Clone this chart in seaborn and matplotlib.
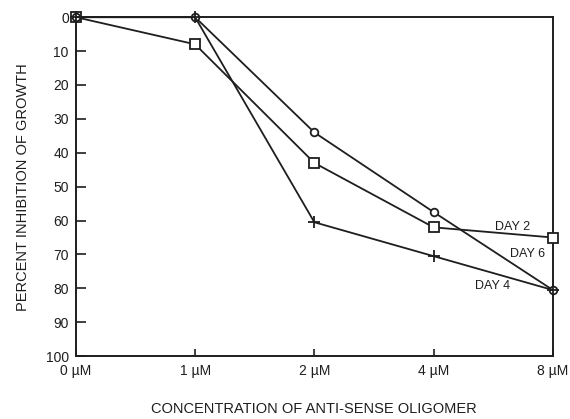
import matplotlib
matplotlib.use("Agg")
import matplotlib.pyplot as plt
import seaborn as sns
import pandas as pd

concentrations = ["0 \u00b5M", "1 \u00b5M", "2 \u00b5M", "4 \u00b5M", "8 \u00b5M"]
day2 = [0, 8, 43, 62, 65]
day6 = [0, 0, 34, 57.5, 80.5]
day4 = [0, 0, 60.5, 70.5, 80.5]
y_ticks = [0, 10, 20, 30, 40, 50, 60, 70, 80, 90, 100]

pos = list(range(len(concentrations)))
df = pd.DataFrame({
    "pos": pos * 3,
    "value": day2 + day6 + day4,
    "day": ["DAY 2"] * 5 + ["DAY 6"] * 5 + ["DAY 4"] * 5,
})

sns.set_theme(style="white")
plt.rcParams["font.family"] = ["Liberation Sans", "DejaVu Sans"]

fig = plt.figure(figsize=(5.70, 4.19), dpi=100)
ax = fig.add_axes([0.133, 0.150, 0.837, 0.809])

ink = "#1e1e1e"
styles = {
    "DAY 2": dict(marker="s", markersize=7, markerfacecolor="white"),
    "DAY 6": dict(marker="o", markersize=5.5, markerfacecolor="white"),
    "DAY 4": dict(marker="+", markersize=8, markerfacecolor=ink),
}
for name, grp in df.groupby("day", sort=False):
    sns.lineplot(data=grp, x="pos", y="value", ax=ax, color=ink, lw=1.3,
                 markeredgecolor=ink, markeredgewidth=1.3,
                 legend=False, zorder=3, clip_on=False, **styles[name])

label_pos = {"DAY 2": (3.66, 61.8), "DAY 6": (3.79, 69.8), "DAY 4": (3.49, 79.3)}
for name, (lx, ly) in label_pos.items():
    ax.text(lx, ly, name, fontsize=9, color=ink, ha="center", va="center")

ax.set_xlim(0, 4)
ax.set_ylim(100, 0)
ax.set_xticks(pos)
ax.set_xticklabels(concentrations)
ax.set_yticks(y_ticks)
ax.set_yticklabels([str(v) for v in y_ticks])
ax.tick_params(axis="y", direction="in", length=7, width=1.2, color=ink,
               labelsize=10, labelcolor=ink, pad=5)
ax.tick_params(axis="x", direction="in", length=5, width=1.2, color=ink,
               labelsize=10, labelcolor=ink, pad=6)
ax.tick_params(left=True, bottom=True)
for s in ax.spines.values():
    s.set_visible(True)
    s.set_color(ink)
    s.set_linewidth(1.4)

ax.set_xlabel("CONCENTRATION OF ANTI-SENSE OLIGOMER", fontsize=10.5, color=ink,
              labelpad=17)
ax.set_ylabel("PERCENT INHIBITION OF GROWTH", fontsize=10.5, color=ink,
              labelpad=11)

fig.savefig("out.png", dpi=100, facecolor="white")
